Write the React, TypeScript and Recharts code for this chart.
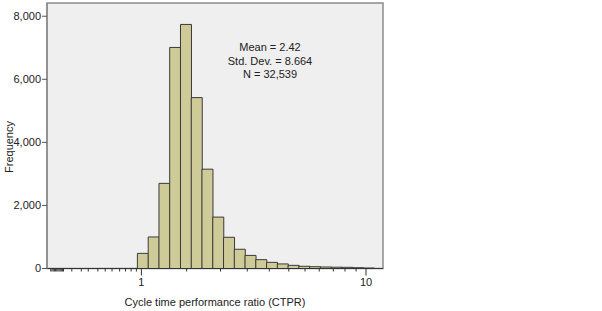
import { BarChart, Bar, XAxis, YAxis, CartesianGrid, ReferenceArea, Customized } from "recharts";

// histogram bins (equal width on the log axis), centre value of each bin
const binCenters = [1.014, 1.133, 1.265, 1.412, 1.577, 1.761, 1.966, 2.196, 2.452, 2.738, 3.057, 3.413, 3.812, 4.256, 4.752, 5.307, 5.926, 6.616, 7.386, 8.246, 9.211, 10.283];
const frequencies = [480, 1000, 2700, 7010, 7740, 5420, 3150, 1630, 990, 610, 415, 280, 195, 145, 100, 70, 57, 48, 41, 38, 25, 15];

const xTicks = [0.395, 0.4, 0.405, 0.41, 0.415, 0.42, 0.425, 0.43, 0.435, 0.44, 0.445, 0.45, 0.49, 0.54, 0.58, 0.64, 0.69, 0.74, 0.8, 0.85, 0.9, 0.95, 1, 1.59, 2.25, 2.96, 3.71, 4.53, 5.35, 6.19, 7.15, 8.06, 9.03, 10];
const xLabeled = [1, 10];
const yTicks = [0, 2000, 4000, 6000, 8000];

const X_DOMAIN = [0.38, 11.9];
const Y_DOMAIN = [0, 8420];

const statLines = ["Mean = 2.42", "Std. Dev. = 8.664", "N = 32,539"];

const data = binCenters.map((x, i) => ({ x, count: frequencies[i] }));

const FONT = "'Liberation Sans', Arial, sans-serif";
const BORDER = "#8c8c8c";

function XTick({ x, y, payload }: any) {
  const major = xLabeled.includes(payload.value);
  return (
    <g>
      <line x1={x} x2={x} y1={y} y2={y + (major ? 7 : 3)} stroke="#333" />
      {major && (
        <text x={x} y={y + 17} textAnchor="middle" fontSize={11} fontFamily={FONT} fill="#222">
          {payload.value}
        </text>
      )}
    </g>
  );
}

function Annotations() {
  return (
    <g fontFamily={FONT} fontSize={11} fill="#222">
      {statLines.map((s, i) => (
        <text key={s} x={270} y={51 + i * 13.5} textAnchor="middle">{s}</text>
      ))}
      <text x={215} y={306} textAnchor="middle">Cycle time performance ratio (CTPR)</text>
      <text x={13} y={147} textAnchor="middle" transform="rotate(-90 13 147)">Frequency</text>
    </g>
  );
}

export default function App() {
  return (
    <div style={{ position: "absolute", left: 0, top: 0, width: 602, height: 311, background: "#fff" }}>
      <BarChart
        width={602}
        height={311}
        data={data}
        margin={{ top: 3, right: 219, bottom: 0.5, left: 0 }}
        barCategoryGap={0}
        barGap={0}
      >
        <CartesianGrid fill="#efefef" horizontal={false} vertical={false} />
        <XAxis
          dataKey="x"
          type="number"
          scale="log"
          domain={X_DOMAIN}
          allowDataOverflow
          ticks={xTicks}
          interval={0}
          tick={<XTick />}
          tickLine={false}
          tickSize={0}
          tickMargin={0}
          height={42}
          axisLine={{ stroke: "#333" }}
        />
        <YAxis
          type="number"
          domain={Y_DOMAIN}
          allowDataOverflow
          ticks={yTicks}
          interval={0}
          width={47}
          tickSize={5}
          tickMargin={1}
          tickFormatter={(v: number) => v.toLocaleString("en-US")}
          tick={{ fontSize: 11, fontFamily: FONT, fill: "#222" }}
          tickLine={{ stroke: "#555" }}
          axisLine={{ stroke: BORDER, strokeWidth: 1.5 }}
        />
        <ReferenceArea
          x1={X_DOMAIN[0]}
          x2={X_DOMAIN[1]}
          y1={Y_DOMAIN[0]}
          y2={Y_DOMAIN[1]}
          fill="none"
          stroke={BORDER}
          strokeWidth={1.5}
          ifOverflow="visible"
        />
        <Bar dataKey="count" fill="#cfcb98" stroke="#3a3a3a" strokeWidth={1} isAnimationActive={false} />
        <Customized component={Annotations} />
      </BarChart>
    </div>
  );
}
